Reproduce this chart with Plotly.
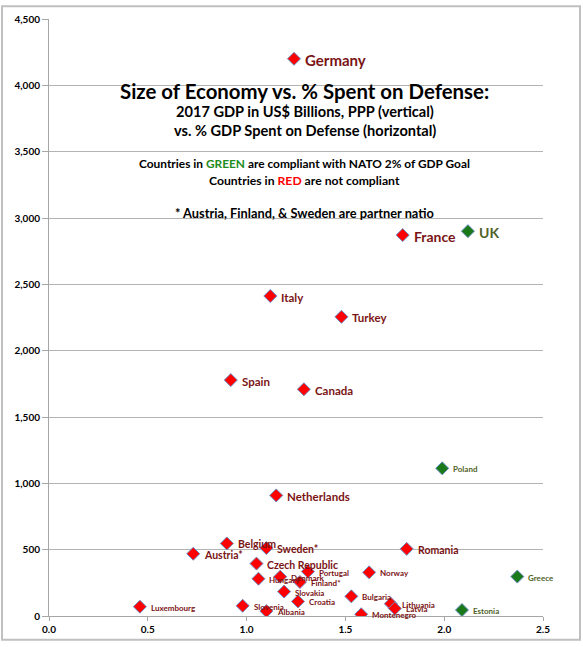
import plotly.graph_objects as go

countries = ["Germany", "France", "UK", "Italy", "Turkey", "Spain", "Canada",
             "Poland", "Netherlands", "Romania", "Belgium", "Sweden*", "Austria*",
             "Czech Republic", "Portugal", "Norway", "Greece", "Denmark", "Hungary",
             "Finland*", "Slovakia", "Bulgaria", "Croatia", "Lithuania", "Slovenia",
             "Luxembourg", "Latvia", "Estonia", "Albania", "Montenegro"]
defense_pct = [1.24, 1.79, 2.12, 1.12, 1.48, 0.92, 1.29,
               1.99, 1.15, 1.81, 0.90, 1.10, 0.73,
               1.05, 1.31, 1.62, 2.37, 1.17, 1.06,
               1.27, 1.19, 1.53, 1.26, 1.73, 0.98,
               0.46, 1.75, 2.09, 1.10, 1.58]
gdp_ppp = [4200, 2871, 2901, 2412, 2255, 1778, 1709,
           1113, 909, 506, 547, 512, 469,
           395, 335, 329, 297, 296, 281,
           256, 184, 148, 110, 92, 77,
           70, 57, 45, 37, 13]
compliant = [c in ("UK", "Poland", "Greece", "Estonia") for c in countries]

x_ticks = [0.0, 0.5, 1.0, 1.5, 2.0, 2.5]
y_ticks = [0, 500, 1000, 1500, 2000, 2500, 3000, 3500, 4000, 4500]

# label style tiers
label_xl = ["Germany"]
label_lg = ["France", "UK"]
label_md = ["Italy", "Turkey", "Spain", "Canada", "Netherlands"]
label_sm = ["Romania", "Belgium", "Sweden*", "Austria*", "Czech Republic"]

RED_FILL = "#ff0000"
GREEN_FILL = "#1a7a1a"
RED_TEXT = "#7a1414"
GREEN_TEXT = "#4f6228"
FONT = "Lato"

fig = go.Figure()
fig.add_trace(go.Scatter(
    x=defense_pct, y=gdp_ppp, mode="markers",
    marker=dict(symbol="diamond", size=10,
                color=[GREEN_FILL if c else RED_FILL for c in compliant],
                line=dict(color="#6a8cc4", width=1)),
    hoverinfo="skip", showlegend=False,
))

def label_size(name):
    if name in label_xl:
        return 15
    if name in label_lg:
        return 14
    if name in label_md:
        return 11.5
    if name in label_sm:
        return 10.5
    return 8

annotations = []
for name, xv, yv, ok in zip(countries, defense_pct, gdp_ppp, compliant):
    annotations.append(dict(
        x=xv, y=yv, xref="x", yref="y", text="<b>%s</b>" % name,
        showarrow=False, xanchor="left", yanchor="middle", xshift=9, yshift=-1,
        font=dict(family=FONT, size=label_size(name),
                  color=GREEN_TEXT if ok else RED_TEXT),
    ))

title_x = 1.293
annotations += [
    dict(x=title_x, y=3958, xref="x", yref="y", showarrow=False,
         text="<b>Size of Economy vs. % Spent on Defense:</b>",
         font=dict(family=FONT, size=20.4, color="#000000")),
    dict(x=title_x, y=3801, xref="x", yref="y", showarrow=False,
         text="<b>2017 GDP in US$ Billions, PPP (vertical)</b>",
         font=dict(family=FONT, size=14.6, color="#000000")),
    dict(x=title_x, y=3663, xref="x", yref="y", showarrow=False,
         text="<b>vs. % GDP Spent on Defense (horizontal)</b>",
         font=dict(family=FONT, size=14.6, color="#000000")),
    dict(x=title_x, y=3410, xref="x", yref="y", showarrow=False,
         text="<b>Countries in <span style='color:#1e8c1e'>GREEN</span> are compliant with NATO 2% of GDP Goal</b>",
         font=dict(family=FONT, size=11.9, color="#000000")),
    dict(x=title_x, y=3280, xref="x", yref="y", showarrow=False,
         text="<b>Countries in <span style='color:#ff0000'>RED</span> are not compliant</b>",
         font=dict(family=FONT, size=12.2, color="#000000")),
    dict(x=title_x, y=3034, xref="x", yref="y", showarrow=False,
         text="<b>* Austria, Finland, & Sweden are partner natio</b>",
         font=dict(family=FONT, size=12.8, color="#000000")),
]

fig.update_layout(
    width=583, height=647,
    margin=dict(l=49, r=40, t=15, b=28, pad=0),
    paper_bgcolor="white", plot_bgcolor="white",
    font=dict(family=FONT, color="#000000"),
    annotations=annotations,
    hovermode=False,
    shapes=[dict(type="rect", xref="paper", yref="paper",
                 x0=-0.0951, x1=1.0749, y0=-0.0397, y1=1.0215,
                 line=dict(color="#c0c0c0", width=2), layer="below")],
)
fig.update_xaxes(
    range=[0, 2.5], tickvals=x_ticks, ticktext=["<b>%.1f</b>" % v for v in x_ticks],
    showgrid=False, zeroline=False, showline=True, linecolor="#a6a6a6", linewidth=1,
    ticks="outside", ticklen=4, tickcolor="#a6a6a6",
    tickfont=dict(family=FONT, size=10, color="#000000"),
)
fig.update_yaxes(
    range=[0, 4500], tickvals=y_ticks, ticktext=["<b>{:,}</b>".format(v) for v in y_ticks],
    showgrid=True, gridcolor="#b3b3b3", gridwidth=1, zeroline=False,
    showline=True, linecolor="#a6a6a6", linewidth=1,
    ticks="outside", ticklen=6, tickcolor="#a6a6a6",
    tickfont=dict(family=FONT, size=10, color="#000000"),
)

fig.write_html("out.html",
               config={"displayModeBar": False, "staticPlot": True},
               post_script="document.body.style.margin='0';document.body.style.overflow='hidden';")
